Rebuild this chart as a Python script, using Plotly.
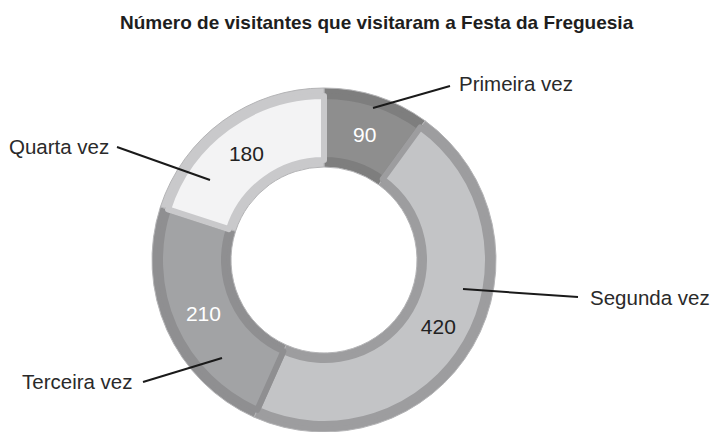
import plotly.graph_objects as go

W, H = 713, 432

categories = ["Primeira vez", "Segunda vez", "Terceira vez", "Quarta vez"]
values = [90, 420, 210, 180]
fill_colors = ["#8e8e8e", "#c3c4c6", "#a2a3a5", "#f3f3f4"]
frame_colors = ["#7e7e7e", "#9d9d9f", "#8f8f91", "#c9c9cb"]
text_colors = ["#ffffff", "#222222", "#ffffff", "#222222"]

title_text = "Número de visitantes que visitaram a Festa da Freguesia"

FONT = "Liberation Sans, Arial, sans-serif"

def px(x):
    return x / W

def py(y):
    return 1 - y / H

cx, cy = 324, 260
R_out, R_in = 172, 93
R_fill_out, R_fill_in = 164, 100

def dom(r):
    return dict(x=[px(cx - r), px(cx + r)], y=[py(cy + r), py(cy - r)])

fig = go.Figure()

fig.add_trace(go.Pie(
    labels=categories, values=values, sort=False, direction="clockwise", rotation=0,
    hole=R_in / R_out, domain=dom(R_out),
    marker=dict(colors=frame_colors, line=dict(color="#b4b4b6", width=1)),
    textinfo="none", hoverinfo="skip", showlegend=False,
))

fig.add_trace(go.Pie(
    labels=categories, values=values, sort=False, direction="clockwise", rotation=0,
    hole=R_fill_in / R_fill_out, domain=dom(R_fill_out),
    marker=dict(colors=fill_colors, line=dict(color=frame_colors, width=6)),
    textinfo="value", textposition="inside", insidetextorientation="horizontal",
    textfont=dict(family=FONT, size=21, color=text_colors),
    showlegend=False,
))

# outside labels with leader lines (layout positions in pixels)
label_pos = {
    "Primeira vez": dict(text=(457, 84), anchor="left", line=((373, 108), (450, 86))),
    "Segunda vez": dict(text=(588, 297), anchor="left", line=((463, 289), (578, 297))),
    "Terceira vez": dict(text=(135, 381), anchor="right", line=((222, 358), (143, 382))),
    "Quarta vez": dict(text=(111, 146), anchor="right", line=((210, 180), (117, 147))),
}

shapes = []
annotations = []
for name in categories:
    p = label_pos[name]
    (x0, y0), (x1, y1) = p["line"]
    shapes.append(dict(type="line", xref="paper", yref="paper",
                       x0=px(x0), y0=py(y0), x1=px(x1), y1=py(y1),
                       line=dict(color="#1a1a1a", width=2)))
    annotations.append(dict(text=name, xref="paper", yref="paper",
                            x=px(p["text"][0]), y=py(p["text"][1]),
                            xanchor=p["anchor"], yanchor="middle", showarrow=False,
                            font=dict(family=FONT, size=20.5, color="#2a2a2a")))

annotations.append(dict(text="<b>" + title_text + "</b>", xref="paper", yref="paper",
                        x=px(377), y=py(22), xanchor="center", yanchor="middle",
                        showarrow=False,
                        font=dict(family=FONT, size=19, color="#1e1e1e")))

fig.update_layout(
    width=W, height=H,
    margin=dict(l=0, r=0, t=0, b=0),
    paper_bgcolor="white", plot_bgcolor="white",
    shapes=shapes, annotations=annotations,
)

fig.write_html("out.html")
